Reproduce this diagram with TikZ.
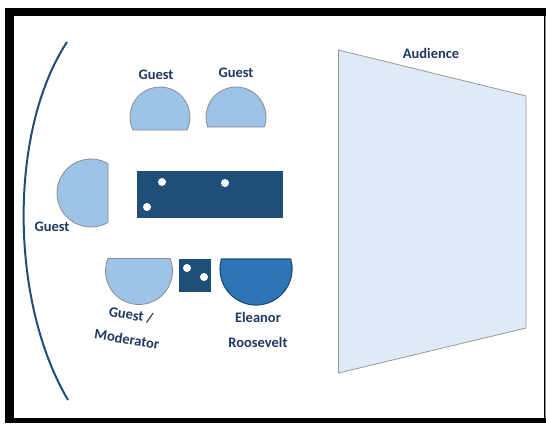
\documentclass[tikz,border=0pt]{standalone}
\usepackage{fontspec}
\setmainfont{Carlito}
\usepackage{xcolor,tikz}
\usetikzlibrary{positioning}
\definecolor{navy}{HTML}{1F4E79}
\definecolor{ink}{HTML}{1F3864}
\definecolor{seatblue}{HTML}{9DC3E6}
\definecolor{hostblue}{HTML}{2E75B6}
\definecolor{crowd}{HTML}{DEEBF7}

\begin{document}
\begin{tikzpicture}[x=1pt,y=-1pt,font=\fontsize{14.5}{16}\selectfont\bfseries,
 seat/.style={draw=black!45,fill=seatblue,line width=0.8pt},
 host/.style={draw=navy,fill=hostblue,line width=1.2pt},
 desk/.style={fill=navy},
 hole/.style={fill=white},
 lbl/.style={text=ink,inner sep=0pt}]
\useasboundingbox (0,0) rectangle (546,423);
% frame
\fill[black] (5,8) rectangle (546,423);
\fill[white] (14,16) rectangle (544,418);
\draw[black!45] (545,16) -- (545,418);
% stage curve
\draw[navy,line width=2pt] (67,42) .. controls (9,130) and (9,300) .. (68,400);
% audience
\draw[fill=crowd,draw=black!40,line width=0.8pt] (338.5,50) -- (526,96) -- (526,328) -- (338.5,373) -- cycle;
\node[lbl] (aud) at (431,53) {Audience};
% seats
\draw[seat] (187,130) arc[start angle=25.7,end angle=-205.7,radius=30] -- cycle;
\draw[seat] (264.3,127) arc[start angle=19.5,end angle=-199.5,radius=30] -- cycle;
\draw[seat] (108,163.6) arc[start angle=-60,end angle=-300,radius=34] -- cycle;
\draw[seat] (170.1,258.5) arc[start angle=-21.9,end angle=201.9,radius=33.5] -- cycle;
\draw[host] (290.6,259) arc[start angle=-16.1,end angle=196.1,radius=36] -- cycle;
% tables
\fill[desk] (136.5,171) rectangle (283,218);
\fill[desk] (179,259) rectangle (211,292);
\foreach \p in {(162,182),(225,183),(147,207),(187,268),(204,277)}
 \fill[hole] \p circle (4);
% labels
\node[lbl] (g1) at (156,75) {Guest};
\node[lbl] (g2) at (236,73) {Guest};
\node[lbl] (g3) at (52,227) {Guest};
\node[lbl,rotate=-9] (g4) at (131,315) {Guest /};
\node[lbl,rotate=-9] (g5) at (127,339) {Moderator};
\node[lbl] (er1) at (258,317) {Eleanor};
\node[lbl] (er2) at (258,342) {Roosevelt};
\end{tikzpicture}
\end{document}
